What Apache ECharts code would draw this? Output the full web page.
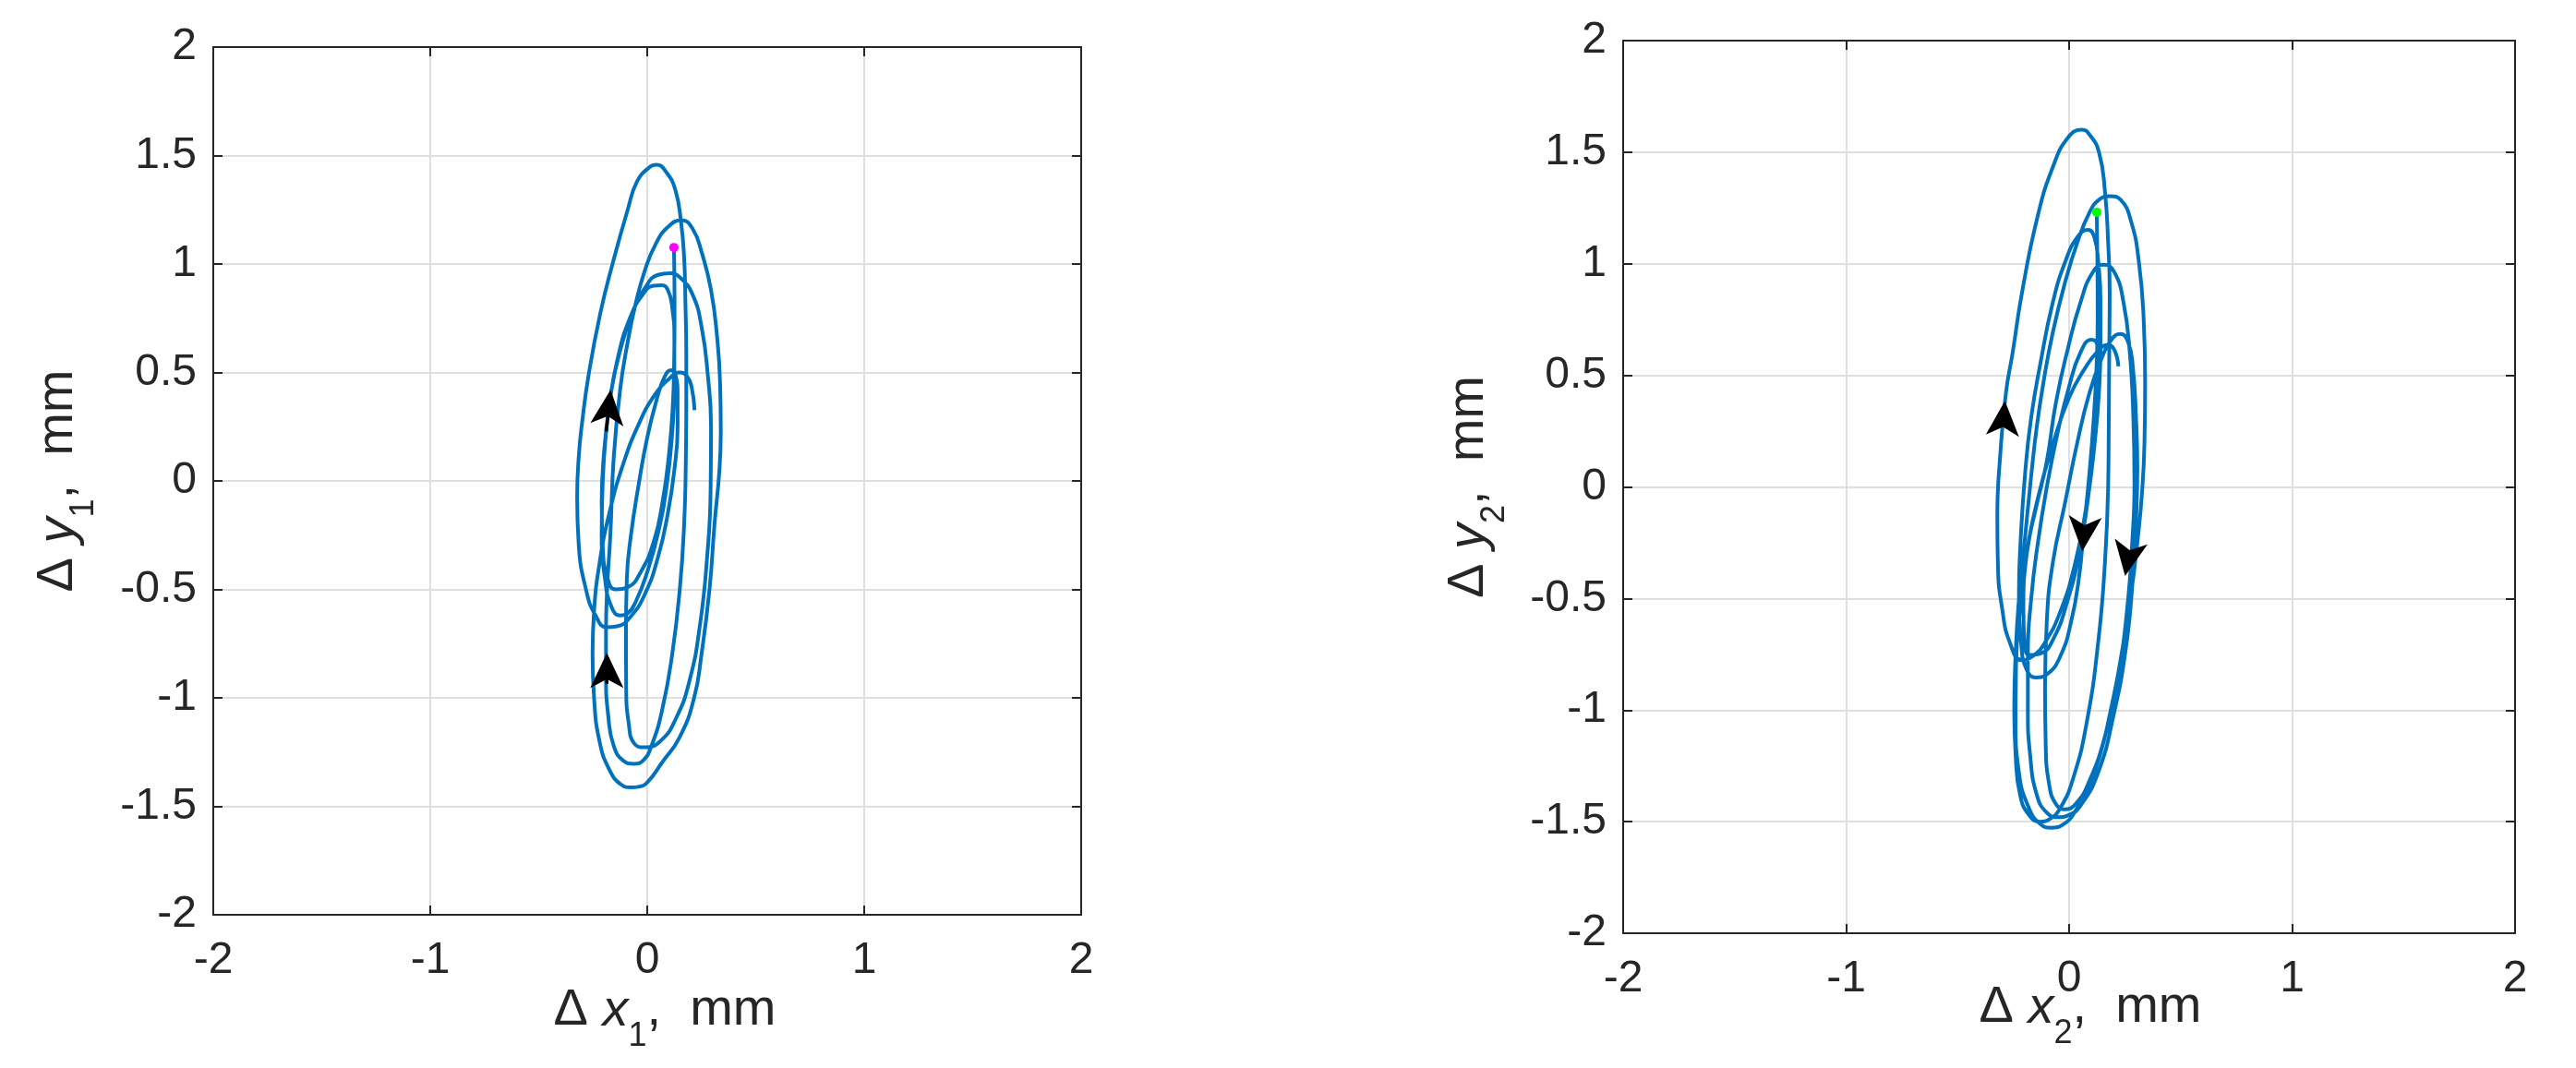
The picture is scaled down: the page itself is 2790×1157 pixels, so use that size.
<!DOCTYPE html>
<html>
<head>
<meta charset="utf-8">
<script src="https://cdn.jsdelivr.net/npm/echarts@6/dist/echarts.min.js"></script>
<style>
html, body { margin: 0; padding: 0; background: #fff; }
#chart { width: 2790px; height: 1157px; }
</style>
</head>
<body>
<div id="chart"></div>
<script>
// trajectory of point 1, pieces in the order they are travelled (mm)
var l1 = [[0.123,1.076],[0.125,0.95],[0.126,0.75],[0.124,0.55],[0.118,0.35],[0.10,0.12],[0.07,-0.1],[0.03,-0.28],[-0.03,-0.42],[-0.09,-0.49],[-0.146,-0.50]];
var l2 = [[-0.185,-0.44],[-0.205,-0.3],[-0.21,-0.1],[-0.2,0.12],[-0.175,0.35],[-0.135,0.57],[-0.08,0.75],[-0.02,0.86],[0.03,0.9],[0.067,0.902]];
var l3 = [[0.095,0.88],[0.115,0.8],[0.125,0.65],[0.125,0.45],[0.115,0.22],[0.09,-0.02],[0.05,-0.24],[0.0,-0.42],[-0.05,-0.55],[-0.09,-0.61],[-0.125,-0.62]];
var l4 = [[-0.165,-0.58],[-0.195,-0.45],[-0.21,-0.25],[-0.205,0.0],[-0.19,0.22],[-0.165,0.42],[-0.125,0.6],[-0.07,0.77],[-0.01,0.89],[0.05,0.95],[0.106,0.957]];
var l5 = [[0.152,0.937],[0.209,0.859],[0.251,0.707],[0.279,0.489],[0.294,0.25],[0.292,-0.05],[0.276,-0.35],[0.245,-0.65],[0.195,-0.92],[0.13,-1.1],[0.06,-1.2],[-0.011,-1.228]];
var l6 = [[-0.06,-1.21],[-0.085,-1.12],[-0.097,-0.95],[-0.098,-0.7],[-0.094,-0.45],[-0.075,-0.25],[-0.04,-0.02],[0.0,0.2],[0.045,0.38],[0.08,0.48],[0.109,0.511]];
var l7 = [[0.13,0.49],[0.14,0.4],[0.14,0.25],[0.125,0.05],[0.095,-0.15],[0.05,-0.35],[-0.01,-0.52],[-0.08,-0.63],[-0.14,-0.67],[-0.189,-0.674]];
var l8 = [[-0.238,-0.62],[-0.28,-0.51],[-0.316,-0.29],[-0.323,-0.076],[-0.315,0.12],[-0.30,0.27],[-0.27,0.49],[-0.217,0.77],[-0.16,1.0],[-0.09,1.25],[-0.047,1.38],[0.01,1.446],[0.043,1.457]];
var l9 = [[0.09,1.42],[0.13,1.34],[0.155,1.2],[0.17,1.03],[0.176,0.82],[0.18,0.58],[0.18,0.35],[0.178,0.1],[0.17,-0.2],[0.15,-0.5],[0.115,-0.8],[0.07,-1.05],[0.02,-1.22],[-0.02,-1.29],[-0.061,-1.304]];
var l10 = [[-0.11,-1.29],[-0.155,-1.22],[-0.18,-1.08],[-0.19,-0.9],[-0.19,-0.7],[-0.185,-0.5],[-0.17,-0.25],[-0.155,0.1],[-0.125,0.42],[-0.09,0.64],[-0.054,0.815],[-0.011,0.97],[0.038,1.09],[0.095,1.17],[0.159,1.202]];
var l11 = [[0.209,1.163],[0.251,1.054],[0.294,0.88],[0.322,0.663],[0.336,0.446],[0.339,0.228],[0.333,0.054],[0.31,-0.2],[0.287,-0.5],[0.25,-0.8],[0.216,-1.0],[0.15,-1.18],[0.067,-1.3],[0.0,-1.39],[-0.04,-1.41],[-0.075,-1.413]];
var l12 = [[-0.12,-1.4],[-0.175,-1.33],[-0.22,-1.2],[-0.245,-1.0],[-0.252,-0.8],[-0.245,-0.6],[-0.22,-0.38],[-0.175,-0.15],[-0.11,0.08],[-0.04,0.26],[0.03,0.39],[0.1,0.47],[0.15,0.5],[0.185,0.48],[0.205,0.43],[0.218,0.326]];

// trajectory of point 2
var r1 = [[0.124,1.231],[0.127,1.0],[0.128,0.76],[0.123,0.54],[0.11,0.3],[0.09,0.05],[0.065,-0.2],[0.045,-0.4],[0.01,-0.6],[-0.04,-0.76],[-0.1,-0.84],[-0.149,-0.854]];
var r2 = [[-0.19,-0.82],[-0.215,-0.7],[-0.225,-0.473],[-0.218,-0.249],[-0.197,0.065],[-0.17,0.312],[-0.128,0.558],[-0.073,0.827],[-0.018,1.007],[0.037,1.119],[0.086,1.152]];
var r3 = [[0.113,1.119],[0.131,1.007],[0.141,0.827],[0.141,0.648],[0.134,0.424],[0.115,0.2],[0.085,-0.05],[0.045,-0.3],[-0.01,-0.52],[-0.07,-0.68],[-0.125,-0.745],[-0.177,-0.753]];
var r4 = [[-0.2,-0.7],[-0.205,-0.55],[-0.19,-0.3],[-0.15,-0.1],[-0.101,0.11],[-0.059,0.379],[-0.004,0.626],[0.051,0.827],[0.106,0.962],[0.155,0.996]];
var r5 = [[0.203,0.962],[0.244,0.827],[0.272,0.603],[0.288,0.312],[0.293,0.02],[0.283,-0.249],[0.26,-0.55],[0.22,-0.85],[0.16,-1.12],[0.09,-1.32],[0.03,-1.42],[-0.02,-1.445]];
var r6 = [[-0.06,-1.42],[-0.09,-1.33],[-0.105,-1.15],[-0.108,-0.9],[-0.1,-0.6],[-0.073,-0.339],[-0.018,-0.07],[0.037,0.2],[0.092,0.424],[0.148,0.581],[0.189,0.659],[0.23,0.686]];
var r7 = [[0.265,0.648],[0.286,0.536],[0.3,0.312],[0.306,0.087],[0.3,-0.15],[0.285,-0.42],[0.255,-0.72],[0.2,-1.02],[0.13,-1.28],[0.05,-1.43],[0.0,-1.47],[-0.05,-1.48]];
var r8 = [[-0.1,-1.46],[-0.145,-1.38],[-0.175,-1.2],[-0.185,-1.0],[-0.185,-0.75],[-0.17,-0.5],[-0.14,-0.25],[-0.1,0.0],[-0.05,0.25],[0.0,0.45],[0.05,0.6],[0.1,0.66]];
var r9 = [[0.125,0.64],[0.135,0.55],[0.13,0.38],[0.11,0.15],[0.075,-0.1],[0.025,-0.35],[-0.04,-0.56],[-0.11,-0.7],[-0.165,-0.76],[-0.211,-0.776]];
var r10 = [[-0.266,-0.697],[-0.301,-0.54],[-0.319,-0.361],[-0.322,-0.137],[-0.308,0.155],[-0.283,0.424],[-0.253,0.603],[-0.211,0.872],[-0.142,1.209],[-0.073,1.433],[-0.004,1.567],[0.058,1.601]];
var r11 = [[0.092,1.578],[0.134,1.5],[0.161,1.321],[0.175,1.096],[0.182,0.872],[0.18,0.6],[0.178,0.3],[0.175,0.0],[0.16,-0.35],[0.13,-0.7],[0.08,-1.05],[0.02,-1.3],[-0.04,-1.44],[-0.09,-1.49],[-0.13,-1.50]];
var r12 = [[-0.18,-1.47],[-0.22,-1.38],[-0.24,-1.2],[-0.246,-1.0],[-0.24,-0.75],[-0.225,-0.5],[-0.2,-0.25],[-0.17,0.05],[-0.145,0.27],[-0.115,0.469],[-0.073,0.693],[-0.018,0.917],[0.037,1.096],[0.092,1.231],[0.134,1.287],[0.182,1.303]];
var r13 = [[0.231,1.287],[0.279,1.186],[0.313,1.007],[0.334,0.76],[0.341,0.469],[0.338,0.2],[0.327,-0.025],[0.306,-0.249],[0.279,-0.473],[0.244,-0.697],[0.189,-0.989],[0.12,-1.258],[0.037,-1.437],[-0.032,-1.516],[-0.08,-1.527]];
var r14 = [[-0.13,-1.51],[-0.18,-1.44],[-0.225,-1.28],[-0.24,-1.05],[-0.238,-0.8],[-0.22,-0.55],[-0.19,-0.3],[-0.14,-0.05],[-0.07,0.2],[0.0,0.4],[0.07,0.53],[0.13,0.61],[0.175,0.637],[0.203,0.614],[0.221,0.54]];

// start points
var startL = [0.123, 1.076];
var startR = [0.124, 1.231];

// direction arrows: [x, y, rotation in degrees]
var arrowsL = [[-0.169, 0.42, -6], [-0.186, -0.793, 0]];
var arrowsR = [[-0.288, 0.386, -4], [0.059, -0.289, 175], [0.251, -0.399, 170]];
// little tails behind the arrow heads
var stemsL = [[[-0.189, 0.228], [-0.172, 0.376]], [[-0.186, -0.935], [-0.186, -0.83]]];
var stemsR = [[[-0.301, 0.278], [-0.291, 0.334]], [[0.065, -0.193], [0.059, -0.26]], [[0.269, -0.305], [0.258, -0.372]]];

var trajL = [].concat(l1, l2, l3, l4, l5, l6, l7, l8, l9, l10, l11, l12);
var trajR = [].concat(r1, r2, r3, r4, r5, r6, r7, r8, r9, r10, r11, r12, r13, r14);

var FONT = '"Liberation Sans", Arial, Helvetica, sans-serif';
var INK = '#262626';
var BLUE = '#0072BD';

var nameRich = {
    d: {fontSize: 56, lineHeight: 92, color: INK, fontFamily: FONT},
    i: {fontSize: 56, lineHeight: 92, fontStyle: 'italic', color: INK, fontFamily: FONT},
    s: {fontSize: 36, lineHeight: 36, verticalAlign: 'bottom', color: INK, fontFamily: FONT},
    n: {fontSize: 56, lineHeight: 92, color: INK, fontFamily: FONT}
};

function axisName(letter, sub) {
    return '{d|Δ} {i|' + letter + '}{s|' + sub + '}{n|,  mm}';
}

function mainAxis(grid, pos, min, max, step, name, gap, pad) {
    var vertical = (pos === 'left');
    return {
        type: 'value',
        gridIndex: grid,
        position: pos,
        min: min,
        max: max,
        interval: step,
        name: name,
        nameLocation: 'middle',
        nameGap: gap,
        nameRotate: vertical ? 90 : 0,
        nameMoveOverlap: false,
        nameTextStyle: {
            fontSize: 56, lineHeight: 92, color: INK, fontFamily: FONT,
            padding: pad, rich: nameRich
        },
        axisLine: {show: true, onZero: false, lineStyle: {color: INK, width: 2}},
        axisTick: {show: true, inside: true, length: 10, lineStyle: {color: INK, width: 2}},
        axisLabel: {show: true, margin: vertical ? 18 : 26, fontSize: 48, color: INK, fontFamily: FONT},
        splitLine: {show: true, lineStyle: {color: '#dfdfdf', width: 2}}
    };
}

function boxAxis(grid, pos, min, max, step) {
    return {
        type: 'value',
        gridIndex: grid,
        position: pos,
        min: min,
        max: max,
        interval: step,
        axisLine: {show: true, onZero: false, lineStyle: {color: INK, width: 2}},
        axisTick: {show: true, inside: true, length: 10, lineStyle: {color: INK, width: 2}},
        axisLabel: {show: false},
        splitLine: {show: false}
    };
}

function pathSeries(grid, data) {
    return {
        type: 'line',
        xAxisIndex: grid * 2,
        yAxisIndex: grid * 2,
        data: data,
        smooth: 0.5,
        showSymbol: false,
        lineStyle: {color: BLUE, width: 4},
        z: 3
    };
}

function stemSeries(grid, data) {
    return {
        type: 'line',
        xAxisIndex: grid * 2,
        yAxisIndex: grid * 2,
        data: data,
        showSymbol: false,
        lineStyle: {color: '#000', width: 3.5},
        z: 4
    };
}

function arrowSeries(grid, list) {
    return {
        type: 'scatter',
        xAxisIndex: grid * 2,
        yAxisIndex: grid * 2,
        symbol: 'arrow',
        symbolSize: [27, 38],
        itemStyle: {color: '#000', opacity: 1},
        data: list.map(function (a) {
            return {value: [a[0], a[1]], symbolRotate: a[2]};
        }),
        z: 5
    };
}

function dotSeries(grid, p, color) {
    return {
        type: 'scatter',
        xAxisIndex: grid * 2,
        yAxisIndex: grid * 2,
        symbol: 'circle',
        symbolSize: 10,
        itemStyle: {color: color, opacity: 1},
        data: [p],
        z: 6
    };
}

var series = [pathSeries(0, trajL), pathSeries(1, trajR)];
stemsL.forEach(function (s) { series.push(stemSeries(0, s)); });
stemsR.forEach(function (s) { series.push(stemSeries(1, s)); });
series.push(arrowSeries(0, arrowsL), arrowSeries(1, arrowsR));
series.push(dotSeries(0, startL, '#ff00ff'), dotSeries(1, startR, '#00ff00'));

var myChart = echarts.init(document.getElementById('chart'), null, {renderer: 'canvas'});
var option = {
    animation: false,
    backgroundColor: '#ffffff',
    grid: [
        {left: 231, top: 51, width: 940, height: 940, outerBoundsMode: 'none'},
        {left: 1758, top: 44, width: 966, height: 967, outerBoundsMode: 'none'}
    ],
    xAxis: [
        mainAxis(0, 'bottom', -2, 2, 1, axisName('x', '1'), 58, [0, 0, 0, 38]),
        boxAxis(0, 'top', -2, 2, 1),
        mainAxis(1, 'bottom', -2, 2, 1, axisName('x', '2'), 35, [0, 0, 0, 46]),
        boxAxis(1, 'top', -2, 2, 1)
    ],
    yAxis: [
        mainAxis(0, 'left', -2, 2, 0.5, axisName('y', '1'), 122, [0, 0, 0, 0]),
        boxAxis(0, 'right', -2, 2, 0.5),
        mainAxis(1, 'left', -2, 2, 0.5, axisName('y', '2'), 121, [0, 0, 0, 0]),
        boxAxis(1, 'right', -2, 2, 0.5)
    ],
    series: series
};
myChart.setOption(option);
</script>
</body>
</html>
